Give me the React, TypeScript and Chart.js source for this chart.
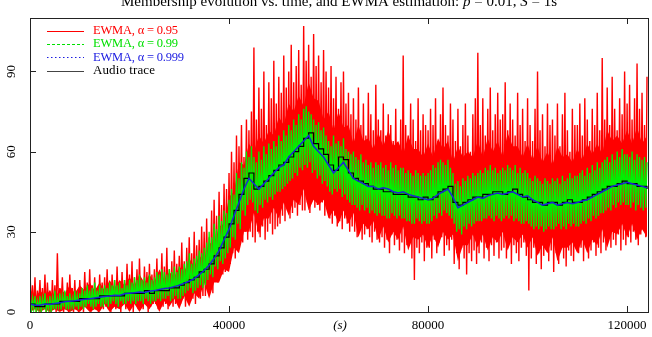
import React, { useEffect, useRef } from "react";
import { Chart, registerables } from "chart.js";

Chart.register(...registerables);

// ---- data ----
const X_MAX = 124200;
const Y_MAX = 110;
const xTickValues = [0, 40000, 80000, 120000];
const yTickValues = [0, 30, 60, 90];
const ewmaStep = 250; // seconds between plotted EWMA samples
const traceStep = 1000;

// EWMA alpha = 0.95 (one row = 5000 s)
const red95 = [
  16, 0, 10, 1, 13, 0, 8, 2, 12, 0, 9, 1, 14, 0, 11, 2, 8, 0, 12, 1,
  10, 0, 22, 1, 9, 2, 13, 0, 7, 1, 11, 0, 14, 2, 9, 0, 12, 1, 8, 0,
  12, 1, 9, 0, 15, 2, 11, 1, 16, 0, 10, 2, 13, 1, 9, 0, 14, 2, 11, 1,
  13, 2, 16, 1, 10, 0, 14, 3, 12, 1, 17, 2, 11, 0, 15, 3, 12, 1, 18, 2,
  14, 2, 19, 0, 13, 3, 16, 1, 20, 2, 12, 1, 17, 3, 15, 0, 18, 2, 14, 3,
  16, 3, 20, 1, 15, 4, 22, 2, 17, 3, 24, 1, 16, 4, 19, 2, 23, 3, 18, 4,
  21, 3, 26, 5, 19, 2, 24, 6, 28, 4, 22, 5, 30, 3, 25, 7, 27, 5, 32, 6,
  30, 6, 35, 8, 28, 10, 38, 7, 42, 12, 36, 11, 45, 13, 40, 14, 48, 15, 46, 17,
  52, 18, 60, 22, 56, 20, 66, 25, 62, 28, 70, 26, 58, 30, 72, 27, 68, 30, 75, 28,
  99, 26, 72, 30, 84, 28, 76, 32, 90, 27, 70, 30, 86, 33, 80, 29, 94, 31, 78, 32,
  88, 33, 82, 36, 96, 34, 84, 38, 90, 35, 100, 37, 86, 39, 92, 36, 98, 40, 85, 38,
  107, 38, 94, 41, 100, 37, 88, 42, 104, 39, 92, 40, 96, 38, 86, 41, 98, 36, 90, 39,
  84, 35, 92, 33, 80, 36, 88, 32, 76, 34, 86, 31, 90, 35, 78, 33, 82, 30, 74, 32,
  80, 30, 72, 28, 84, 32, 70, 27, 78, 29, 66, 31, 82, 28, 74, 26, 68, 30, 85, 27,
  72, 26, 68, 28, 78, 24, 66, 27, 74, 22, 70, 29, 64, 25, 76, 27, 62, 23, 72, 26,
  96, 22, 70, 25, 66, 28, 78, 20, 72, 12, 64, 24, 80, 22, 68, 26, 74, 19, 70, 24,
  68, 24, 76, 20, 70, 27, 80, 22, 64, 26, 74, 28, 84, 21, 70, 25, 66, 23, 78, 27,
  72, 18, 64, 22, 76, 16, 62, 24, 70, 20, 78, 14, 66, 22, 60, 19, 74, 23, 80, 18,
  97, 22, 70, 26, 80, 20, 66, 24, 76, 19, 84, 25, 68, 21, 74, 26, 82, 20, 72, 23,
  74, 24, 86, 20, 68, 26, 78, 18, 72, 25, 66, 22, 82, 19, 70, 24, 76, 26, 64, 21,
  80, 8, 70, 20, 64, 24, 76, 18, 90, 22, 68, 16, 74, 21, 62, 25, 78, 19, 70, 23,
  72, 15, 66, 22, 78, 18, 62, 24, 74, 20, 82, 17, 68, 23, 60, 21, 76, 19, 70, 24,
  70, 22, 78, 24, 66, 19, 80, 25, 72, 20, 64, 23, 76, 26, 70, 21, 82, 24, 68, 22,
  95, 26, 72, 23, 84, 28, 70, 24, 88, 27, 76, 25, 68, 29, 80, 23, 74, 27, 90, 25,
  78, 28, 85, 26, 72, 30, 80, 27, 93, 25, 76, 29, 82, 31, 70, 28, 88,
];

// dense core of the alpha = 0.95 band (one value per 1000 s)
const red95CoreHigh = [
  9, 5, 8, 6, 8, 5, 9, 7, 10, 7,
  10, 8, 11, 8, 11, 8, 12, 9, 12, 10,
  13, 10, 14, 11, 14, 11, 16, 12, 15, 13,
  17, 15, 20, 17, 21, 19, 26, 25, 32, 33,
  43, 45, 56, 55, 63, 60, 66, 63, 68, 66,
  73, 70, 78, 75, 81, 77, 86, 80, 79, 72,
  75, 68, 75, 69, 70, 63, 70, 64, 65, 61,
  67, 62, 68, 62, 64, 59, 66, 61, 61, 58,
  63, 58, 65, 61, 64, 56, 62, 58, 60, 58,
  64, 58, 65, 60, 64, 58, 67, 62, 62, 58,
  63, 57, 62, 56, 60, 55, 62, 58, 59, 56,
  61, 57, 63, 59, 63, 59, 68, 64, 66, 63,
  68, 63, 69, 63, 66,
];
const red95CoreLow = [
  0, 1, 0, 1, 0, 1, 0, 1, 0, 1,
  0, 2, 0, 1, 0, 3, 0, 2, 1, 3,
  0, 3, 0, 3, 1, 4, 0, 4, 2, 5,
  1, 6, 2, 7, 5, 11, 5, 11, 11, 16,
  15, 24, 22, 30, 30, 37, 29, 35, 35, 39,
  35, 41, 36, 42, 40, 46, 38, 42, 40, 42,
  35, 38, 33, 38, 33, 37, 28, 33, 31, 34,
  27, 32, 26, 30, 27, 32, 23, 28, 27, 29,
  24, 29, 24, 30, 27, 29, 19, 25, 25, 29,
  24, 29, 23, 28, 26, 30, 23, 28, 26, 29,
  24, 28, 21, 25, 22, 28, 19, 24, 24, 26,
  22, 27, 22, 27, 25, 31, 24, 30, 29, 33,
  28, 33, 27, 31, 28,
];

// EWMA alpha = 0.99
const green99 = [
  7, 0, 5, 1, 6, 0, 4, 1, 6, 0, 5, 1, 7, 0, 4, 1, 6, 0, 5, 1,
  8, 1, 5, 2, 7, 1, 6, 2, 8, 1, 6, 1, 7, 2, 5, 1, 8, 2, 6, 1,
  7, 2, 9, 1, 8, 2, 10, 3, 8, 2, 9, 1, 11, 2, 8, 3, 10, 2, 9, 2,
  10, 3, 9, 2, 11, 3, 10, 4, 12, 3, 10, 2, 11, 4, 9, 3, 12, 3, 10, 4,
  12, 3, 11, 4, 13, 3, 12, 4, 14, 4, 12, 3, 13, 5, 11, 4, 14, 3, 12, 4,
  13, 4, 15, 5, 14, 4, 16, 5, 15, 5, 14, 6, 16, 4, 15, 5, 17, 6, 15, 5,
  17, 5, 16, 6, 18, 7, 19, 8, 22, 9, 18, 7, 20, 8, 21, 9, 23, 10, 22, 9,
  24, 10, 26, 12, 30, 14, 28, 13, 33, 17, 31, 16, 36, 19, 34, 18, 38, 20, 37, 22,
  42, 24, 46, 28, 44, 27, 52, 33, 50, 31, 56, 38, 54, 36, 60, 40, 58, 42, 62, 41,
  58, 38, 56, 37, 60, 40, 57, 39, 62, 42, 59, 41, 63, 43, 61, 42, 64, 44, 62, 45,
  66, 45, 64, 46, 68, 47, 66, 48, 70, 49, 68, 50, 72, 52, 70, 51, 74, 54, 72, 53,
  76, 55, 77, 54, 75, 56, 74, 52, 72, 53, 70, 50, 71, 51, 68, 48, 69, 49, 66, 47,
  64, 45, 62, 44, 66, 46, 63, 45, 64, 46, 62, 43, 65, 44, 61, 42, 60, 41, 59, 40,
  60, 40, 58, 39, 57, 38, 59, 40, 56, 38, 57, 39, 55, 37, 56, 38, 54, 37, 56, 36,
  55, 37, 56, 36, 54, 36, 55, 35, 53, 35, 56, 37, 54, 36, 55, 35, 53, 36, 54, 35,
  54, 35, 52, 34, 53, 34, 52, 33, 51, 33, 53, 35, 52, 34, 51, 33, 52, 34, 51, 33,
  52, 33, 53, 34, 55, 36, 54, 35, 56, 37, 57, 36, 56, 38, 55, 37, 57, 36, 54, 35,
  52, 33, 48, 30, 49, 31, 47, 29, 50, 32, 49, 31, 51, 33, 50, 32, 52, 33, 51, 34,
  52, 34, 53, 34, 52, 35, 54, 35, 53, 36, 55, 35, 53, 34, 54, 36, 52, 35, 53, 34,
  54, 35, 53, 36, 55, 35, 54, 36, 53, 34, 55, 35, 52, 34, 54, 33, 52, 33, 53, 34,
  52, 33, 50, 32, 49, 31, 51, 32, 50, 31, 49, 32, 48, 30, 50, 31, 49, 32, 48, 31,
  50, 31, 49, 32, 50, 33, 48, 31, 51, 32, 49, 31, 50, 33, 52, 32, 50, 33, 51, 32,
  51, 32, 52, 33, 53, 34, 51, 33, 54, 35, 52, 34, 55, 36, 53, 35, 56, 36, 54, 37,
  56, 37, 57, 38, 58, 39, 56, 38, 59, 40, 57, 39, 60, 41, 58, 40, 61, 41, 59, 40,
  59, 40, 58, 39, 60, 41, 57, 38, 59, 40, 58, 39, 57, 38, 58, 39, 56,
];

// EWMA alpha = 0.999 (one row = 10000 s)
const blue999 = [
  3, 2.5, 2.5, 3, 2.8, 3.2, 3.5, 3.8, 4, 4.2,
  4.5, 4.8, 5, 5.2, 5.5, 5.8, 6, 6.3, 6.2, 6.8,
  7, 7.2, 7.5, 7.3, 7.8, 8, 8.4, 8.8, 9, 9.5,
  10, 10.8, 11.5, 12.5, 14, 15.5, 17.5, 20, 23, 27,
  31, 36, 41, 46, 50, 48, 46, 48, 50, 52,
  54, 55, 58, 60, 62, 64, 66, 62, 60, 58,
  55, 52, 54, 56, 53, 50, 49, 48, 47, 47,
  46, 46.5, 46, 45, 44.5, 45, 44, 43.5, 43, 42.5,
  42, 42.5, 44, 45, 46, 43, 39, 40, 41, 42,
  43, 42.5, 43.5, 44, 44.5, 44, 44.5, 45, 44, 43,
  43.5, 42, 41, 40, 40.5, 41, 40, 40.5, 41, 40.5,
  41, 41.5, 42, 43, 44, 45, 46, 47, 47.5, 48,
  48.5, 48, 47.5, 47, 46.5,
];

// Audio trace (membership counts)
const audioTrace = [
  3, 2, 2, 3, 3, 3, 4, 4, 4, 4, 5,
  5, 5, 5, 6, 6, 6, 6, 6, 7, 7,
  7, 7, 8, 7, 8, 8, 8, 9, 9, 10,
  11, 12, 13, 15, 16, 18, 21, 24, 28, 33,
  38, 44, 50, 52, 46, 47, 49, 51, 53, 55,
  56, 58, 60, 62, 65, 67, 63, 61, 59, 55,
  53, 58, 57, 52, 50, 49, 48, 47, 46, 46,
  45, 45, 44, 44, 44, 43, 43, 42, 43, 42,
  43, 45, 46, 47, 41, 40, 41, 42, 43, 43,
  44, 44, 45, 45, 44, 45, 46, 44, 43, 42,
  41, 41, 40, 41, 41, 40, 41, 42, 41, 41,
  42, 43, 44, 45, 46, 47, 47, 48, 49, 48, 48, 47, 47, 46,
];

const legendLabels = ["EWMA, \u03b1 = 0.95", "EWMA, \u03b1 = 0.99", "EWMA, \u03b1 = 0.999", "Audio trace"];
const legendColors = ["#ff0000", "#00e000", "#1a1ae0", "#000000"];

const toPoints = (arr: number[], step: number) => arr.map((v, i) => ({ x: i * step, y: v }));

const SERIF = "'Liberation Serif', 'Times New Roman', serif";

// draw text so that it spans exactly `target` pixels
function drawFitted(ctx: CanvasRenderingContext2D, text: string, x: number, y: number, target: number) {
  const chars = Array.from(text);
  const w = ctx.measureText(text).width;
  const n = Math.max(1, chars.length - 1);
  const extra = (target - w) / n;
  let cx = x;
  for (const ch of chars) {
    ctx.fillText(ch, cx, y);
    cx += ctx.measureText(ch).width + extra;
  }
}

const overlay = {
  id: "gnuplotOverlay",
  afterDraw(chart: any) {
    const ctx = chart.ctx as CanvasRenderingContext2D;
    const a = chart.chartArea;
    const xs = chart.scales.x;
    const ys = chart.scales.y;
    ctx.save();
    // frame
    ctx.strokeStyle = "#222";
    ctx.lineWidth = 1;
    ctx.strokeRect(Math.round(a.left) + 0.5, Math.round(a.top) + 0.5, Math.round(a.right - a.left), Math.round(a.bottom - a.top));
    // ticks
    ctx.beginPath();
    for (const v of xTickValues) {
      const px = Math.round(xs.getPixelForValue(v)) + 0.5;
      ctx.moveTo(px, a.bottom);
      ctx.lineTo(px, a.bottom - 6);
      ctx.moveTo(px, a.top);
      ctx.lineTo(px, a.top + 6);
    }
    for (const v of yTickValues) {
      const py = Math.round(ys.getPixelForValue(v)) + 0.5;
      ctx.moveTo(a.left, py);
      ctx.lineTo(a.left + 6, py);
    }
    ctx.stroke();
    // tick labels
    ctx.fillStyle = "#000";
    ctx.font = `13px ${SERIF}`;
    ctx.textAlign = "center";
    ctx.textBaseline = "middle";
    for (const v of xTickValues) {
      ctx.fillText(String(v), xs.getPixelForValue(v), a.bottom + 14);
    }
    for (const v of yTickValues) {
      const py = ys.getPixelForValue(v);
      ctx.save();
      ctx.translate(12, py);
      ctx.rotate(-Math.PI / 2);
      ctx.fillText(String(v), 0, 0);
      ctx.restore();
    }
    // x axis label
    ctx.font = `italic 13px ${SERIF}`;
    const cx = (a.left + a.right) / 2;
    ctx.fillText("(s)", cx + 1, a.bottom + 14);
    // title with italic parts
    const parts: [string, boolean][] = [
      ["Membership evolution vs. time, and EWMA estimation: ", false],
      ["p", true],
      [" = 0.01, ", false],
      ["S", true],
      [" = 1s", false],
    ];
    const fontN = `15px ${SERIF}`;
    const fontI = `italic 15px ${SERIF}`;
    let total = 0;
    for (const [t, it] of parts) {
      ctx.font = it ? fontI : fontN;
      total += ctx.measureText(t).width;
    }
    let tx = cx - total / 2;
    ctx.textAlign = "left";
    ctx.textBaseline = "alphabetic";
    for (const [t, it] of parts) {
      ctx.font = it ? fontI : fontN;
      ctx.fillText(t, tx, 6);
      tx += ctx.measureText(t).width;
    }
    // legend
    ctx.textBaseline = "middle";
    const dashes = [[], [3, 2], [1.5, 2.5], []];
    const sizes = [12.5, 12.5, 12.5, 13];
    const targets = [85, 85, 91, 62];
    for (let i = 0; i < legendLabels.length; i++) {
      const y = a.top + 12.5 + i * 13.4;
      ctx.beginPath();
      ctx.setLineDash(dashes[i]);
      ctx.strokeStyle = i === 3 ? "#444" : legendColors[i];
      ctx.lineWidth = 1;
      ctx.moveTo(47, Math.round(y) + 0.5);
      ctx.lineTo(84, Math.round(y) + 0.5);
      ctx.stroke();
      ctx.setLineDash([]);
      ctx.fillStyle = legendColors[i];
      ctx.font = `${sizes[i]}px ${SERIF}`;
      drawFitted(ctx, legendLabels[i], 93, y, targets[i]);
    }
    ctx.restore();
  },
};

export default function App() {
  const ref = useRef<HTMLCanvasElement>(null);
  useEffect(() => {
    document.body.style.margin = "0";
    const canvas = ref.current!;
    const chart = new Chart(canvas, {
      type: "line",
      data: {
        datasets: [
          { label: "core low", data: toPoints(red95CoreLow, traceStep), borderColor: "rgba(0,0,0,0)", borderWidth: 0, pointRadius: 0, fill: false, order: 6 },
          { label: "core high", data: toPoints(red95CoreHigh, traceStep), borderColor: "rgba(0,0,0,0)", backgroundColor: "#ff0000", borderWidth: 0, pointRadius: 0, fill: "-1", order: 5 },
          { label: legendLabels[0], data: toPoints(red95, ewmaStep), borderColor: "#ff0000", borderWidth: 1.4, pointRadius: 0, fill: false, order: 4 },
          { label: legendLabels[1], data: toPoints(green99, ewmaStep), borderColor: "#00f000", borderWidth: 1.3, pointRadius: 0, fill: false, order: 3 },
          { label: legendLabels[3], data: toPoints(audioTrace, traceStep), borderColor: "#000000", borderWidth: 1.2, pointRadius: 0, stepped: true, fill: false, order: 2 },
          { label: legendLabels[2], data: toPoints(blue999, traceStep), borderColor: "#1a2ad0", borderWidth: 1.5, pointRadius: 0, fill: false, order: 1 },
        ],
      },
      options: {
        animation: false,
        responsive: false,
        maintainAspectRatio: false,
        events: [],
        layout: { padding: { top: 18, right: 4, left: 30, bottom: 25 } },
        plugins: { legend: { display: false }, tooltip: { enabled: false }, title: { display: false } },
        elements: { line: { tension: 0 }, point: { radius: 0 } },
        scales: {
          x: { type: "linear", min: 0, max: X_MAX, display: false },
          y: { type: "linear", min: 0, max: Y_MAX, display: false },
        },
      },
      plugins: [overlay],
    });
    return () => chart.destroy();
  }, []);
  return <canvas ref={ref} width={652} height={337} style={{ display: "block" }} />;
}
